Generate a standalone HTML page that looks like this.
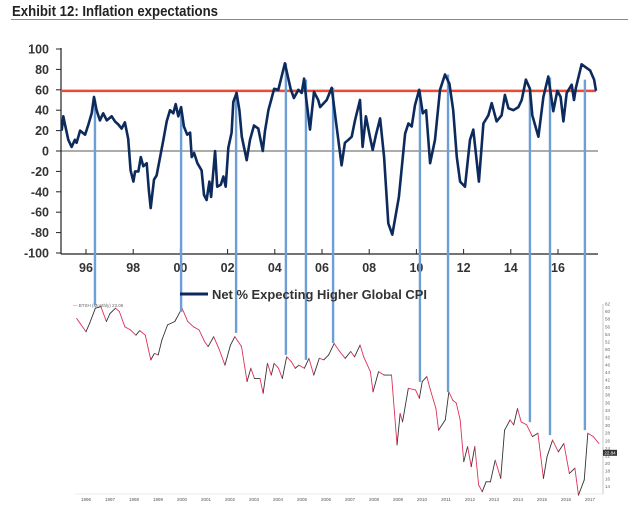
<!DOCTYPE html>
<html><head><meta charset="utf-8"><style>
html,body{margin:0;padding:0;background:#fff;}
svg{display:block;font-family:"Liberation Sans",Arial,sans-serif;}
</style></head><body>
<svg id="chart" width="640" height="519" viewBox="0 0 640 519" xmlns="http://www.w3.org/2000/svg">
<text x="12" y="16" font-size="15" font-weight="bold" fill="#222" textLength="206" lengthAdjust="spacingAndGlyphs" font-family="'Liberation Sans Narrow','Liberation Sans',sans-serif">Exhibit 12: Inflation expectations</text>
<line x1="11" y1="19.5" x2="628" y2="19.5" stroke="#6d8fc4" stroke-width="1"/>
<g id="topG"></g>
<g id="bottomG"></g>
<g id="events"></g>
<g id="topLine"></g>
<g>
<line x1="180" y1="294" x2="208" y2="294" stroke="#0d2a5c" stroke-width="3"/>
<text x="212" y="299" font-size="13" font-weight="bold" fill="#333" textLength="215" lengthAdjust="spacingAndGlyphs">Net % Expecting Higher Global CPI</text>
</g>
</svg>
<script>
// ---- Top chart data ----
const topYears = [1994.97,1995.04,1995.11,1995.25,1995.39,1995.53,1995.60,1995.75,1995.96,1996.10,1996.24,1996.34,1996.45,1996.59,1996.73,1996.88,1997.09,1997.23,1997.37,1997.51,1997.65,1997.79,1997.89,1998.01,1998.08,1998.22,1998.32,1998.43,1998.57,1998.66,1998.74,1998.88,1998.99,1999.14,1999.28,1999.42,1999.56,1999.70,1999.80,1999.91,2000.03,2000.15,2000.29,2000.41,2000.48,2000.58,2000.72,2000.90,2001.00,2001.11,2001.23,2001.30,2001.47,2001.56,2001.71,2001.82,2001.92,2002.03,2002.17,2002.24,2002.38,2002.50,2002.60,2002.81,2002.95,2003.12,2003.30,2003.49,2003.58,2003.73,2003.87,2003.97,2004.15,2004.43,2004.67,2004.81,2005.00,2005.14,2005.24,2005.32,2005.49,2005.66,2005.84,2005.92,2006.20,2006.41,2006.62,2006.83,2006.97,2007.12,2007.26,2007.40,2007.61,2007.72,2007.86,2008.03,2008.15,2008.29,2008.46,2008.63,2008.81,2008.98,2009.26,2009.52,2009.66,2009.80,2009.94,2010.12,2010.27,2010.41,2010.58,2010.79,2011.00,2011.21,2011.40,2011.56,2011.71,2011.85,2012.06,2012.27,2012.41,2012.55,2012.65,2012.84,2013.05,2013.19,2013.40,2013.61,2013.75,2013.90,2014.11,2014.32,2014.46,2014.64,2014.81,2014.91,2015.17,2015.38,2015.59,2015.80,2015.97,2016.11,2016.23,2016.37,2016.58,2016.68,2016.76,2017.00,2017.36,2017.53,2017.61];
const topValues = [20,34,26,11,4,11,8,20,16,26,37,53,40,30,37,30,34,29,26,22,28,12,-19,-30,-20,-20,-6,-15,-12,-38,-56,-28,-24,-6,11,29,40,37,46,34,43,24,16,18,-6,-2,-12,-19,-43,-48,-30,-45,0,-35,-33,-25,-35,3,18,48,57,40,14,-9,11,25,22,0,19,40,52,61,60,86,61,52,60,57,71,53,21,58,50,43,50,62,24,-14,8,11,14,30,50,4,34,14,1,16,32,-6,-71,-82,-45,17,27,24,45,60,37,40,-12,11,60,75,66,40,-6,-30,-35,11,21,-9,-30,27,35,47,29,35,55,42,40,43,50,70,61,35,14,53,73,39,59,53,29,57,65,50,62,85,79,70,59];
const topYTicks = [100,80,60,40,20,0,-20,-40,-60,-80,-100];
const topXTicks = [1996,1998,2000,2002,2004,2006,2008,2010,2012,2014,2016];
const topXLabels = ["96","98","00","02","04","06","08","10","12","14","16"];
const thresholdValue = 59;

// ---- Bottom chart data ----
const botYears = [1995.61,1996.00,1996.15,1996.39,1996.62,1996.85,1997.00,1997.23,1997.39,1997.62,1997.85,1998.08,1998.24,1998.47,1998.70,1998.85,1999.01,1999.16,1999.40,1999.70,2000.00,2000.24,2000.48,2000.71,2000.94,2001.09,2001.32,2001.56,2001.79,2002.02,2002.20,2002.48,2002.71,2002.87,2003.02,2003.25,2003.38,2003.56,2003.72,2003.84,2004.02,2004.18,2004.36,2004.56,2004.72,2004.87,2005.10,2005.29,2005.49,2005.72,2005.91,2006.11,2006.34,2006.57,2006.80,2007.03,2007.19,2007.42,2007.57,2007.85,2007.96,2008.19,2008.42,2008.73,2008.96,2009.09,2009.19,2009.43,2009.73,2009.89,2010.01,2010.20,2010.35,2010.58,2010.69,2010.97,2011.12,2011.28,2011.43,2011.59,2011.74,2011.90,2012.05,2012.20,2012.36,2012.51,2012.67,2012.85,2013.05,2013.28,2013.44,2013.67,2013.82,2013.98,2014.13,2014.36,2014.60,2014.83,2015.06,2015.21,2015.44,2015.68,2015.91,2016.14,2016.37,2016.52,2016.76,2016.91,2017.14,2017.37];
const botValues = [58.2,54.7,56.9,60.9,61.3,57.4,59.5,60.9,60.0,56.0,55.2,53.8,55.0,53.8,47.3,49.0,48.6,52.5,56.5,57.4,60.9,57.4,56.0,55.2,52.1,50.8,53.4,49.9,45.9,51.2,53.4,50.8,41.6,45.1,42.4,42.4,38.5,46.4,43.3,46.4,45.1,42.4,48.1,46.8,45.1,45.9,45.1,47.7,43.3,47.7,47.3,48.6,51.6,49.5,47.7,49.5,48.1,51.2,48.1,44.2,38.9,44.2,43.3,43.3,24.9,33.2,31.0,39.8,39.4,37.2,41.6,42.9,39.4,34.5,28.8,31.5,38.9,36.7,35.9,31.5,20.5,24.5,19.2,24.5,14.4,12.6,15.2,15.2,20.9,16.1,28.8,31.5,30.2,34.5,31.0,30.2,27.1,28.0,16.1,21.8,26.2,23.1,25.3,17.4,18.8,11.7,15.7,28.0,27.1,25.3];
const botYTicks = [14,16,18,20,22,24,26,28,30,32,34,36,38,40,42,44,46,48,50,52,54,56,58,60,62];
const botXTicks = [1996,1997,1998,1999,2000,2001,2002,2003,2004,2005,2006,2007,2008,2009,2010,2011,2012,2013,2014,2015,2016,2017];
const lastValue = 22.84;

// ---- Event markers ----
const eventYears = [1996.38,2000.03,2002.36,2004.47,2005.32,2006.47,2010.15,2011.34,2014.81,2015.66,2017.14];
const eventTopValues = [50,40,58,86,70,62,58,75,58,72,70];
const eventBottomValues = [61.7,59.9,54.4,48.6,47.3,51.7,41.5,38.8,30.9,27.5,28.8];

const NS = "http://www.w3.org/2000/svg";
function mk(tag, attrs, parent){const e=document.createElementNS(NS,tag);for(const k in attrs)e.setAttribute(k,attrs[k]);parent.appendChild(e);return e;}

// axis functions
const xTop = yr => 86 + (yr - 1996) * 23.6;
const yTop = v => 151 - v * 1.02;
const xBot = yr => 86 + (yr - 1996) * 24;
const yBot = v => 494 - (v - 12) * 3.8;

const topG = document.getElementById('topG');
topYTicks.forEach(t => {
  const l = mk('line',{x1:56,x2:61,y1:yTop(t),y2:yTop(t),stroke:'#222','stroke-width':1},topG);
  
  
  const tx = mk('text',{x:49,y:yTop(t)+4.5,'text-anchor':'end','font-size':12.5,'font-weight':'bold',fill:'#333'},topG);
  tx.textContent = t;
  
  
});
const ya = mk('line',{x1:61,x2:61,y1:48,y2:254,stroke:'#222','stroke-width':1.2},topG);


const xa = mk('line',{x1:61,x2:598,y1:254,y2:254,stroke:'#222','stroke-width':1.2},topG);


const zl = mk('line',{x1:61,x2:598,y1:yTop(0),y2:yTop(0),stroke:'#222','stroke-width':0.8},topG);


topXTicks.forEach((t,i) => {
  const l = mk('line',{x1:xTop(t),x2:xTop(t),y1:249,y2:254,stroke:'#222','stroke-width':1},topG);
  
  
  const tx = mk('text',{x:xTop(t),y:272,'text-anchor':'middle','font-size':12.5,'font-weight':'bold',fill:'#333'},topG);
  tx.textContent = topXLabels[i];
  
  
});
const th = mk('line',{x1:61,x2:596,y1:yTop(thresholdValue),y2:yTop(thresholdValue),stroke:'#ee4a32','stroke-width':2.5},topG);



// bottom chart
const botG = document.getElementById('bottomG');
const ra = mk('line',{x1:603,x2:603,y1:304,y2:494,stroke:'#bbb','stroke-width':0.8},botG);


botYTicks.forEach(t => {
  const tx = mk('text',{x:605,y:yBot(t)+1.5,'font-size':4.5,fill:'#666'},botG);
  tx.textContent = t;
  
  
});
const ba = mk('line',{x1:75,x2:603,y1:494,y2:494,stroke:'#ddd','stroke-width':0.6},botG);


botXTicks.forEach(t => {
  const tx = mk('text',{x:xBot(t),y:501,'text-anchor':'middle','font-size':4.5,fill:'#555'},botG);
  tx.textContent = t;
  
  
});
const tl2 = mk('text',{x:73,y:307,'font-size':4.5,fill:'#666'},botG);
tl2.textContent = '— BTSH (Monthly) 23.06';


const nBot = Math.min(botYears.length, botValues.length);
for(let i=1;i<nBot;i++){
  const s = mk('line',{x1:xBot(botYears[i-1]),y1:yBot(botValues[i-1]),x2:xBot(botYears[i]),y2:yBot(botValues[i]),stroke:botValues[i]<botValues[i-1]?'#e0305a':'#333','stroke-width':0.9,'stroke-linecap':'round'},botG);
  
  
}
const lastY = yBot(lastValue);
const lb = mk('rect',{x:603,y:lastY-3,width:14,height:6,fill:'#333'},botG);


const lt = mk('text',{x:610,y:lastY+1.7,'text-anchor':'middle','font-size':4.5,fill:'#fff'},botG);
lt.textContent = lastValue.toFixed(2);



// event lines
const ev = document.getElementById('events');
eventYears.forEach((yr,i) => {
  const x = xTop(yr);
  const l = mk('line',{x1:x,x2:x,y1:yTop(eventTopValues[i]),y2:yBot(eventBottomValues[i]),stroke:'#6d9fd6','stroke-width':2.4},ev);
  
  
});

// top series line on top
const lineG = document.getElementById('topLine');
const nTop = Math.min(topYears.length, topValues.length);
const pts = [];
for(let i=0;i<nTop;i++) pts.push(xTop(topYears[i]).toFixed(1)+','+yTop(topValues[i]).toFixed(1));
const tl = mk('polyline',{points:pts.join(' '),fill:'none',stroke:'#0d2a5c','stroke-width':2.6,'stroke-linejoin':'round'},lineG);


</script>
</body></html>
